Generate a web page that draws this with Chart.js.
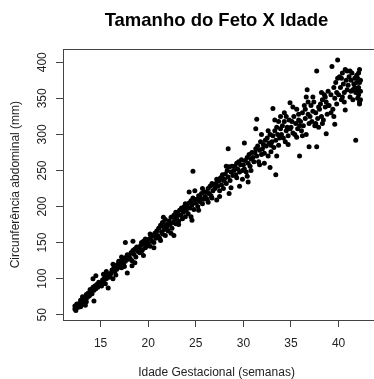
<!DOCTYPE html>
<html>
<head>
<meta charset="utf-8">
<script src="https://cdn.jsdelivr.net/npm/chart.js@4"></script>
<style>
  html, body { margin: 0; background: #fff; }
  #wrap { width: 374px; height: 379px; }
</style>
</head>
<body>
<div id="wrap"><canvas id="c" width="374" height="379"></canvas></div>
<script>
// ---------- Data ----------
const chartTitle = 'Tamanho do Feto X Idade';
const xLabel = 'Idade Gestacional (semanas)';
const yLabel = 'Circunferência abdominal (mm)';
const xTicks = [15, 20, 25, 30, 35, 40];
const yTicks = [50, 100, 150, 200, 250, 300, 350, 400];

// gestational age (weeks), one row per week
const ages = [
  12.3,12.3,12.4,12.5,12.6,12.7,12.8,12.9,12.9,13.0,13.0,
  13.1,13.2,13.3,13.4,13.5,13.5,13.6,13.7,13.8,13.9,13.9,13.4,
  14.0,14.1,14.2,14.3,14.3,14.4,14.5,14.6,14.7,14.8,14.9,14.2,14.5,
  15.0,15.1,15.2,15.3,15.4,15.5,15.6,15.7,15.8,15.8,15.9,15.3,15.6,
  16.0,16.1,16.2,16.3,16.4,16.5,16.6,16.7,16.8,16.9,16.3,16.6,16.9,
  17.0,17.1,17.2,17.3,17.4,17.5,17.6,17.6,17.7,17.8,17.8,17.9,17.2,17.5,
  18.0,18.1,18.2,18.3,18.4,18.4,18.5,18.6,18.7,18.8,18.9,18.3,18.6,
  19.0,19.1,19.2,19.3,19.4,19.5,19.5,19.6,19.7,19.8,19.9,19.3,19.7,
  20.0,20.1,20.2,20.3,20.4,20.5,20.6,20.7,20.8,20.9,20.2,20.6,20.9,
  21.0,21.1,21.2,21.3,21.4,21.5,21.5,21.6,21.7,21.8,21.8,21.9,21.3,21.6,
  22.0,22.1,22.2,22.3,22.4,22.5,22.6,22.7,22.7,22.8,22.9,22.4,22.9,
  23.0,23.1,23.2,23.3,23.4,23.5,23.6,23.7,23.8,23.9,23.2,23.6,23.9,
  24.0,24.1,24.2,24.3,24.4,24.5,24.6,24.6,24.7,24.7,24.8,24.9,24.3,24.5,24.9,
  25.0,25.1,25.2,25.3,25.4,25.5,25.6,25.7,25.8,25.9,25.3,25.7,
  26.0,26.1,26.2,26.3,26.4,26.5,26.6,26.7,26.8,26.9,26.3,26.7,
  27.0,27.1,27.2,27.2,27.3,27.4,27.5,27.6,27.7,27.8,27.9,27.5,27.9,
  28.0,28.1,28.2,28.3,28.4,28.4,28.5,28.5,28.6,28.7,28.8,28.9,28.2,28.7,
  29.0,29.1,29.2,29.3,29.4,29.5,29.6,29.6,29.7,29.8,29.9,29.3,29.9,
  30.0,30.1,30.1,30.2,30.3,30.4,30.5,30.5,30.6,30.7,30.8,30.9,30.4,30.8,
  31.0,31.1,31.2,31.3,31.4,31.4,31.5,31.6,31.7,31.8,31.9,31.3,31.7,31.9,
  32.0,32.1,32.2,32.3,32.4,32.5,32.6,32.7,32.8,32.8,32.9,32.2,32.6,32.9,
  33.0,33.1,33.1,33.2,33.3,33.4,33.4,33.5,33.5,33.6,33.7,33.8,33.9,33.3,33.7,33.9,
  34.0,34.1,34.2,34.3,34.4,34.5,34.5,34.6,34.7,34.8,34.9,34.3,34.7,34.9,
  35.0,35.1,35.2,35.3,35.4,35.5,35.6,35.7,35.8,35.9,35.9,35.2,35.6,35.8,
  36.0,36.1,36.2,36.3,36.4,36.5,36.6,36.6,36.7,36.8,36.9,36.9,36.2,36.5,36.8,
  37.0,37.1,37.2,37.3,37.4,37.5,37.6,37.7,37.7,37.8,37.9,37.3,37.6,37.9,
  38.0,38.1,38.2,38.3,38.4,38.5,38.6,38.7,38.7,38.8,38.9,38.9,38.3,38.6,38.2,
  39.0,39.2,39.3,39.4,39.5,39.6,39.6,39.7,39.8,39.9,39.9,39.2,39.8,39.5,
  40.0,40.1,40.2,40.3,40.4,40.5,40.6,40.7,40.7,40.8,40.9,40.3,40.6,40.9,40.4,
  41.0,41.1,41.2,41.3,41.4,41.5,41.6,41.7,41.8,41.8,41.9,41.2,41.5,41.7,41.9,41.3,
  42.0,42.0,42.1,42.1,42.2,42.2,42.3,42.3,42.1,42.2,42.0,42.3,42.2
];

// abdominal circumference (mm), same order as ages
const circ = [
  58,62,56,65,60,63,66,61,70,64,68,
  75,66,70,72,68,78,74,80,76,85,78,63,
  82,79,88,69,84,90,86,92,88,95,91,100,104,
  94,90,98,96,101,93,100,104,87,106,102,106,110,
  104,108,112,100,115,110,118,113,120,116,120,105,124,
  118,122,115,126,120,128,150,124,130,108,133,127,130,117,
  132,128,136,125,152,139,134,141,130,144,138,118,122,
  142,136,146,150,140,132,152,148,155,145,150,138,143,
  148,155,145,158,152,160,150,163,156,166,162,143,158,
  160,170,156,174,165,178,162,172,168,160,182,175,153,185,
  172,166,180,175,185,170,178,160,188,182,176,163,192,
  185,190,180,195,188,198,183,192,200,186,175,196,204,
  195,200,190,205,198,208,181,202,249,212,196,206,220,186,222,
  205,210,200,215,207,212,218,204,210,220,195,225,
  214,220,210,225,218,228,215,232,222,230,206,212,
  225,232,209,238,228,235,222,240,230,244,236,214,225,
  238,245,232,250,280,241,218,255,236,248,256,243,256,226,
  250,256,244,260,252,262,228,248,258,265,250,240,238,
  258,288,252,264,248,268,234,260,272,256,266,275,242,250,
  268,262,275,280,321,270,284,262,278,290,272,308,258,300,
  280,286,274,292,284,295,270,288,254,300,285,260,305,276,
  290,336,298,282,305,244,292,270,310,300,318,295,308,320,285,325,
  300,312,295,318,290,305,325,310,298,320,308,330,286,344,
  310,318,302,325,300,315,335,308,320,270,312,338,296,328,
  318,305,330,312,340,322,352,300,362,328,283,315,298,335,345,
  325,340,318,332,345,312,330,283,388,322,338,352,315,310,
  335,342,325,348,320,355,338,301,345,328,360,340,315,352,358,
  340,355,394,335,365,314,350,372,342,403,378,330,358,325,
  355,380,365,348,385,370,358,334,390,375,362,378,345,388,352,
  368,380,352,375,385,362,370,378,292,358,372,388,348,365,382,360,
  350,378,365,385,345,372,360,348,355,390,362,375,342
];

// ---------- Chart ----------
const FONT = '"Liberation Sans", Arial, Helvetica, sans-serif';
const AXIS = '#444';
const TEXT = '#222';

// R-style box round the plot region
const boxPlugin = {
  id: 'box',
  afterDraw(chart) {
    const { ctx, chartArea: a } = chart;
    ctx.save();
    ctx.strokeStyle = AXIS;
    ctx.lineWidth = 1;
    ctx.strokeRect(Math.round(a.left) + 0.5, Math.round(a.top) + 0.5,
                   a.right - a.left + 4, Math.round(a.bottom - a.top));
    ctx.restore();
  }
};

new Chart(document.getElementById('c'), {
  type: 'scatter',
  data: {
    datasets: [{
      data: ages.map((a, i) => ({ x: a, y: circ[i] })),
      backgroundColor: '#000',
      borderWidth: 0,
      pointRadius: 2.5
    }]
  },
  options: {
    responsive: false,
    animation: false,
    layout: { padding: 0 },
    plugins: {
      legend: { display: false },
      tooltip: { enabled: false },
      title: {
        display: true, text: chartTitle, fullSize: false, color: '#000',
        font: { family: FONT, size: 18.5, weight: 'bold' },
        padding: { top: 9.6, bottom: 17.5 }
      }
    },
    scales: {
      x: {
        type: 'linear', min: 11.05, max: 43.3,
        afterBuildTicks: s => { s.ticks = xTicks.map(v => ({ value: v })); },
        afterFit: s => { s.height = 59; },
        grid: { drawOnChartArea: false, drawTicks: true, tickLength: 7, color: AXIS },
        border: { display: true, color: AXIS },
        ticks: { color: TEXT, font: { family: FONT, size: 12 }, padding: 9, maxRotation: 0, autoSkip: false },
        title: { display: true, text: xLabel, color: TEXT, font: { family: FONT, size: 12, lineHeight: 1 }, padding: { top: 0, bottom: 0 } }
      },
      y: {
        type: 'linear', min: 42.7, max: 418,
        afterBuildTicks: s => { s.ticks = yTicks.map(v => ({ value: v })); },
        afterFit: s => { s.width = 63; },
        grid: { drawOnChartArea: false, drawTicks: true, tickLength: 7, color: AXIS },
        border: { display: true, color: AXIS },
        ticks: { color: TEXT, font: { family: FONT, size: 12 }, padding: 3, minRotation: 90, maxRotation: 90, crossAlign: 'center', autoSkip: false },
        title: { display: true, text: yLabel, color: TEXT, font: { family: FONT, size: 12 }, padding: { top: 8, bottom: 0 } }
      }
    }
  },
  plugins: [boxPlugin]
});
</script>
</body>
</html>
